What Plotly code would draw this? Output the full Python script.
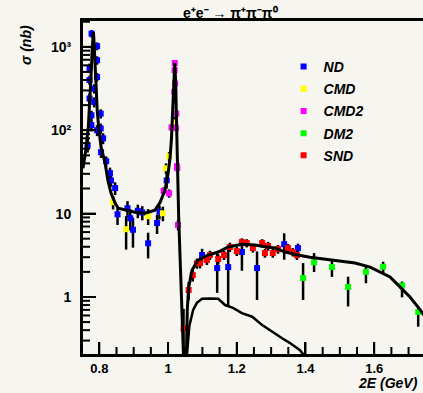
import plotly.graph_objects as go

# ---- measured cross sections (E in GeV, sigma in nb) ----
nd_x = [0.7775, 0.7935, 0.7935, 0.7715, 0.7935, 0.7715, 0.785, 0.7715, 0.785, 0.804,
        0.777, 0.777, 0.804, 0.7935, 0.811, 0.766, 0.805, 0.820, 0.831, 0.834,
        0.846, 0.853, 0.882, 0.890, 0.898, 0.912, 0.925, 0.942, 0.968, 0.975,
        0.996, 1.099, 1.143, 1.175, 1.215, 1.259, 1.338, 1.378]
nd_y = [1440, 1020, 690, 560, 435, 400, 315, 240, 218, 158,
        151, 115, 105, 100, 80, 66, 54.5, 42.5, 30.6, 25,
        20.2, 9.8, 11.6, 8.8, 6.4, 10.8, 10.3, 4.4, 7.7, 10.5,
        25, 3.18, 2.22, 2.28, 3.46, 2.22, 4.3, 3.86]
nd_err = [150, 110, 80, 70, 50, 50, 40, 35, 30, 20,
          20, 18, 15, 15, 12, 12, 8, 6, 5, 4,
          3.5, 2.5, 2.5, 2.5, 2.5, 2.0, 2.0, 1.5, 2.0, 2.0,
          5, 0.6, 1.1, 1.5, 1.4, 1.3, 1.5, 0.5]

cmd_x = [0.840, 0.878, 0.942, 0.985, 0.994, 1.003, 1.0195]
cmd_y = [13.7, 6.5, 9.3, 10.1, 35, 48.6, 124]
cmd_err = [2.5, 2.8, 2.0, 2.0, 5, 6, 20]

cmd2_x = [1.0195, 1.0190, 1.0205, 1.0180, 1.0100, 1.0235, 1.0240, 1.0260, 1.0270, 0.987, 1.003, 1.029]
cmd2_y = [640, 525, 364, 287, 108, 106, 158, 37, 35, 18.7, 17.5, 7.3]
cmd2_err = [40, 35, 25, 20, 8, 8, 10, 3, 3, 2, 2, 1]

dm2_x = [1.393, 1.425, 1.477, 1.524, 1.576, 1.626, 1.681, 1.728]
dm2_y = [1.69, 2.60, 2.28, 1.32, 2.00, 2.30, 1.37, 0.66]
dm2_err_hi = [0.86, 0.76, 0.49, 0.43, 0.30, 0.35, 0.16, 0.08]
dm2_err_lo = [0.77, 0.61, 0.54, 0.55, 0.54, 0.38, 0.38, 0.22]

snd_x = [1.045, 1.060, 1.072, 1.084, 1.093, 1.113, 1.122, 1.146, 1.163, 1.180, 1.200,
         1.215, 1.229, 1.247, 1.274, 1.282, 1.291, 1.305, 1.320, 1.349, 1.363, 1.375]
snd_y = [0.42, 1.21, 1.83, 2.53, 2.55, 2.77, 3.18, 2.85, 3.18, 3.97, 3.55,
         4.55, 4.43, 3.86, 4.43, 3.36, 4.08, 3.36, 3.75, 3.86, 3.46, 3.18]
snd_err = [0.3, 0.3, 0.3, 0.35, 0.35, 0.35, 0.4, 0.4, 0.4, 0.5, 0.45,
           0.5, 0.5, 0.45, 0.5, 0.4, 0.5, 0.4, 0.45, 0.45, 0.4, 0.4]

# ---- fit curves ----
fit_x = [0.7525, 0.760, 0.768, 0.772, 0.776, 0.779, 0.7815, 0.7826, 0.784, 0.787,
         0.790, 0.794, 0.798, 0.805, 0.817, 0.825, 0.834, 0.846, 0.855, 0.875,
         0.904, 0.933, 0.962, 0.977, 0.991, 1.000, 1.006, 1.010, 1.014, 1.017,
         1.0195, 1.022, 1.025, 1.028, 1.031, 1.035, 1.040, 1.043, 1.046, 1.050,
         1.053, 1.056, 1.060, 1.070, 1.087, 1.116, 1.146, 1.175, 1.215, 1.253,
         1.282, 1.311, 1.341, 1.378, 1.413, 1.472, 1.544, 1.588, 1.617, 1.646,
         1.675, 1.704, 1.734, 1.745]
fit_y = [35, 55, 110, 200, 450, 900, 1350, 1500, 1300, 700,
         350, 170, 110, 63, 40, 25, 17.6, 13.4, 11.6, 11.0,
         10.4, 10.1, 11.0, 13.7, 19.1, 30, 47, 80, 180, 380,
         640, 400, 100, 25, 9, 3, 0.8, 0.3, 0.08, 0.05,
         0.15, 0.7, 1.3, 2.1, 2.77, 3.18, 3.46, 3.97, 4.3, 4.2,
         4.0, 3.86, 3.46, 3.18, 3.0, 2.77, 2.55, 2.28, 1.99, 1.74,
         1.32, 1.0, 0.70, 0.6]

part_x = [1.050, 1.055, 1.062, 1.073, 1.084, 1.099, 1.120, 1.146, 1.166, 1.189,
          1.215, 1.245, 1.274, 1.303, 1.332, 1.355, 1.384, 1.400]
part_y = [0.05, 0.2, 0.45, 0.70, 0.85, 0.95, 0.96, 0.95, 0.80, 0.74,
          0.64, 0.58, 0.46, 0.38, 0.32, 0.28, 0.23, 0.19]

# ---- axes ----
W, H = 423, 393
MARGIN = dict(l=83, r=0, t=21, b=39)
X_RANGE = [0.7525, 1.742]
Y_RANGE = [-0.684, 3.31]          # log10 of sigma
x_major = [0.8, 1.0, 1.2, 1.4, 1.6]
x_major_text = ["0.8", "1", "1.2", "1.4", "1.6"]
x_minor = [round(0.75 + 0.05 * i, 2) for i in range(20)]
y_major = [1, 10, 100, 1000]
y_major_text = ["1", "10", "10²", "10³"]
y_minor = [m * 10 ** e for e in range(-1, 4) for m in range(2, 10)]

BG = "#f6f5ef"
FONT = "Liberation Sans"

fig = go.Figure()


def add_set(name, xs, ys, color, err_hi, err_lo=None):
    fig.add_trace(go.Scatter(
        x=xs, y=ys, mode="markers", name=name, legendgroup=name,
        marker=dict(symbol="square", size=6, color=color, line=dict(width=0)),
        error_y=dict(type="data", symmetric=err_lo is None, array=err_hi,
                     arrayminus=err_lo, color="black", thickness=2.5, width=0),
    ))


add_set("ND", nd_x, nd_y, "#0000ff", nd_err)
add_set("CMD", cmd_x, cmd_y, "#ffff00", cmd_err)
add_set("CMD2", cmd2_x, cmd2_y, "#ff00ff", cmd2_err)
add_set("DM2", dm2_x, dm2_y, "#00ff00", dm2_err_hi, dm2_err_lo)
add_set("SND", snd_x, snd_y, "#ff0000", snd_err)

fig.add_trace(go.Scatter(x=fit_x, y=fit_y, mode="lines", showlegend=False,
                         line=dict(color="black", width=3)))
fig.add_trace(go.Scatter(x=part_x, y=part_y, mode="lines", showlegend=False,
                         line=dict(color="black", width=2.5)))

# inward tick marks on the bottom and left frame edges, drawn as one-sided
# bars anchored on the frame (pixel lengths converted through the axis scales)
plot_w = W - MARGIN["l"] - MARGIN["r"]
plot_h = H - MARGIN["t"] - MARGIN["b"]
x_per_px = (X_RANGE[1] - X_RANGE[0]) / plot_w
dec_per_px = (Y_RANGE[1] - Y_RANGE[0]) / plot_h
y_bottom = 10 ** Y_RANGE[0]

xt_pos = [v for v in x_minor if X_RANGE[0] <= v <= X_RANGE[1]]
xt_len = [12 if any(abs(v - m) < 1e-9 for m in x_major) else 7 for v in xt_pos]
fig.add_trace(go.Scatter(
    x=xt_pos, y=[y_bottom] * len(xt_pos), mode="markers", showlegend=False,
    hoverinfo="skip", marker=dict(size=1, color="rgba(0,0,0,0)"),
    error_y=dict(type="data", symmetric=False,
                 array=[10 ** (Y_RANGE[0] + n * dec_per_px) - y_bottom for n in xt_len],
                 arrayminus=[0] * len(xt_pos), color="black", thickness=2, width=0),
))

yt_pos = [v for v in y_major + y_minor if 10 ** Y_RANGE[0] <= v <= 10 ** Y_RANGE[1]]
yt_len = [13 if v in y_major else 7 for v in yt_pos]
fig.add_trace(go.Scatter(
    x=[X_RANGE[0]] * len(yt_pos), y=yt_pos, mode="markers", showlegend=False,
    hoverinfo="skip", marker=dict(size=1, color="rgba(0,0,0,0)"),
    error_x=dict(type="data", symmetric=False,
                 array=[n * x_per_px for n in yt_len],
                 arrayminus=[0] * len(yt_pos), color="black", thickness=2, width=0),
))

fig.update_layout(
    width=W, height=H,
    margin=MARGIN,
    paper_bgcolor=BG, plot_bgcolor=BG,
    font=dict(family=FONT, size=14, color="black"),
    showlegend=True,
    legend=dict(x=0.59, y=0.91, xanchor="left", yanchor="top",
                bgcolor="rgba(0,0,0,0)", tracegroupgap=1,
                font=dict(family=FONT, size=14, color="black", style="italic", weight="bold")),
    xaxis=dict(range=X_RANGE,
               showgrid=False, zeroline=False,
               showline=True, linecolor="black", linewidth=3, mirror=True,
               ticks="inside", ticklen=12, tickwidth=2, tickcolor="black",
               tickvals=x_major, ticktext=x_major_text,
               tickfont=dict(family=FONT, size=13, weight="bold")),
    yaxis=dict(type="log", range=Y_RANGE,
               showgrid=False, zeroline=False,
               showline=True, linecolor="black", linewidth=3,
               ticks="inside", ticklen=13, tickwidth=2, tickcolor="black",
               tickvals=y_major, ticktext=y_major_text,
               ticklabelstandoff=6,
               tickfont=dict(family=FONT, size=14, weight="bold")),
    annotations=[
        dict(text="e⁺e⁻ → π⁺π⁻π⁰", xref="paper", yref="paper", x=0.435, y=1,
             xanchor="center", yanchor="bottom", yshift=-2, showarrow=False,
             font=dict(family=FONT, size=14, weight="bold")),
        dict(text="2E (GeV)", xref="paper", yref="paper", x=1, y=0,
             xanchor="right", yanchor="top", yshift=-19, xshift=-3, showarrow=False,
             font=dict(family=FONT, size=14, weight="bold", style="italic")),
        dict(text="σ (nb)", xref="paper", yref="paper", x=0, y=1,
             xanchor="right", yanchor="top", xshift=-47, yshift=-2, textangle=-90,
             showarrow=False, font=dict(family=FONT, size=14, weight="bold", style="italic")),
    ],
)

fig.write_html("out.html")
